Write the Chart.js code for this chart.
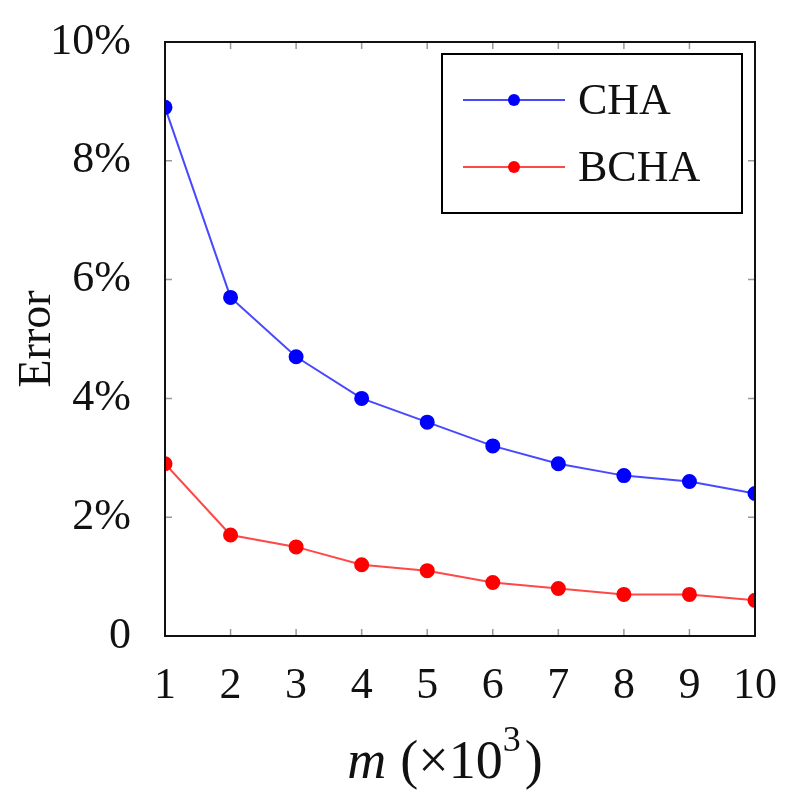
<!DOCTYPE html>
<html>
<head>
<meta charset="utf-8">
<script src="https://cdn.jsdelivr.net/npm/chart.js@4/dist/chart.umd.min.js"></script>
<style>
  html, body { margin: 0; padding: 0; background: #fff; }
  #wrap { width: 789px; height: 793px; }
</style>
</head>
<body>
<div id="wrap"><canvas id="errChart" width="789" height="793"></canvas></div>
<script>
const mValues = [1, 2, 3, 4, 5, 6, 7, 8, 9, 10];
const chaError = [8.9, 5.7, 4.7, 4.0, 3.6, 3.2, 2.9, 2.7, 2.6, 2.4];
const bchaError = [2.9, 1.7, 1.5, 1.2, 1.1, 0.9, 0.8, 0.7, 0.7, 0.6];
const yTicks = [0, 2, 4, 6, 8, 10];
const seriesNames = ["CHA", "BCHA"];

const serif = "'Liberation Serif', 'DejaVu Serif', serif";

function toPoints(vals) {
    return mValues.map((m, i) => ({ x: m, y: vals[i] }));
}

// frame, inward ticks, legend box and x title like pgfplots
const frame = {
    id: "frame",
    afterDraw(chart) {
        const ctx = chart.ctx;
        const a = chart.chartArea;
        const xs = chart.scales.x, ys = chart.scales.y;
        ctx.save();
        ctx.strokeStyle = "#999";
        ctx.lineWidth = 1.5;
        mValues.forEach(v => {
            const px = xs.getPixelForValue(v);
            ctx.beginPath();
            ctx.moveTo(px, a.bottom); ctx.lineTo(px, a.bottom - 7);
            ctx.moveTo(px, a.top); ctx.lineTo(px, a.top + 7);
            ctx.stroke();
        });
        yTicks.forEach(v => {
            const py = ys.getPixelForValue(v);
            ctx.beginPath();
            ctx.moveTo(a.left, py); ctx.lineTo(a.left + 7, py);
            ctx.moveTo(a.right, py); ctx.lineTo(a.right - 7, py);
            ctx.stroke();
        });
        ctx.strokeStyle = "#111";
        ctx.lineWidth = 2;
        ctx.strokeRect(a.left, a.top, a.right - a.left, a.bottom - a.top);

        // legend
        const lx = 442, ly = 54, lw = 300, lh = 159;
        ctx.fillStyle = "#fff";
        ctx.fillRect(lx, ly, lw, lh);
        ctx.strokeStyle = "#000";
        ctx.lineWidth = 2;
        ctx.strokeRect(lx, ly, lw, lh);
        chart.data.datasets.forEach((ds, i) => {
            const cy = ly + 46 + i * 67;
            ctx.strokeStyle = ds.borderColor;
            ctx.lineWidth = 2;
            ctx.beginPath();
            ctx.moveTo(lx + 21, cy); ctx.lineTo(lx + 123, cy);
            ctx.stroke();
            ctx.fillStyle = ds.pointBackgroundColor;
            ctx.beginPath();
            ctx.arc(lx + 72, cy, 6, 0, Math.PI * 2);
            ctx.fill();
            ctx.fillStyle = "#111";
            ctx.font = "44px " + serif;
            ctx.textBaseline = "middle";
            ctx.textAlign = "left";
            ctx.fillText(ds.label, lx + 136, cy + 2);
        });

        // x title: m (×10^3)
        ctx.fillStyle = "#111";
        ctx.textBaseline = "alphabetic";
        ctx.textAlign = "left";
        const by = 778;
        const parts = [
            ["italic 54px", "m", 0, 14],
            ["54px", "(×10", 0, 0],
            ["36px", "3", -27, 4],
            ["54px", ")", 0, 0]
        ];
        let total = 0;
        parts.forEach(p => { ctx.font = p[0] + " " + serif; total += ctx.measureText(p[1]).width + p[3]; });
        let x = 445 - total / 2;
        parts.forEach(p => {
            ctx.font = p[0] + " " + serif;
            ctx.fillText(p[1], x, by + p[2]);
            x += ctx.measureText(p[1]).width + p[3];
        });
        ctx.restore();
    }
};

new Chart(document.getElementById("errChart"), {
    type: "line",
    data: {
        datasets: [
            {
                label: seriesNames[0],
                data: toPoints(chaError),
                borderColor: "rgba(40,40,255,0.85)",
                pointBackgroundColor: "#0000ff",
                pointBorderColor: "#0000ff",
                borderWidth: 2,
                pointRadius: 6.5
            },
            {
                label: seriesNames[1],
                data: toPoints(bchaError),
                borderColor: "rgba(255,40,40,0.85)",
                pointBackgroundColor: "#ff0000",
                pointBorderColor: "#ff0000",
                borderWidth: 2,
                pointRadius: 6.5
            }
        ]
    },
    options: {
        responsive: false,
        animation: false,
        layout: { padding: { left: 0, right: 0, top: 42, bottom: 0 } },
        plugins: {
            legend: { display: false },
            tooltip: { enabled: false }
        },
        scales: {
            x: {
                type: "linear",
                min: 1,
                max: 10,
                afterBuildTicks: s => { s.ticks = mValues.map(v => ({ value: v })); },
                grid: { display: false },
                border: { display: false },
                ticks: {
                    color: "#111",
                    font: { family: serif, size: 44 },
                    padding: 16
                },
                afterFit: s => { s.height = 157; s.paddingRight = 34; }
            },
            y: {
                min: 0,
                max: 10,
                afterBuildTicks: s => { s.ticks = yTicks.map(v => ({ value: v })); },
                grid: { display: false },
                border: { display: false },
                ticks: {
                    color: "#111",
                    font: { family: serif, size: 44 },
                    padding: 26,
                    callback: v => v === 0 ? "0" : v + "%"
                },
                title: {
                    display: true,
                    text: "Error",
                    color: "#111",
                    font: { family: serif, size: 46 },
                    padding: { top: 10, bottom: 0 }
                },
                afterFit: s => { s.width = 165; s.paddingTop = 0; s.paddingBottom = 0; }
            }
        }
    },
    plugins: [frame]
});
</script>
</body>
</html>
